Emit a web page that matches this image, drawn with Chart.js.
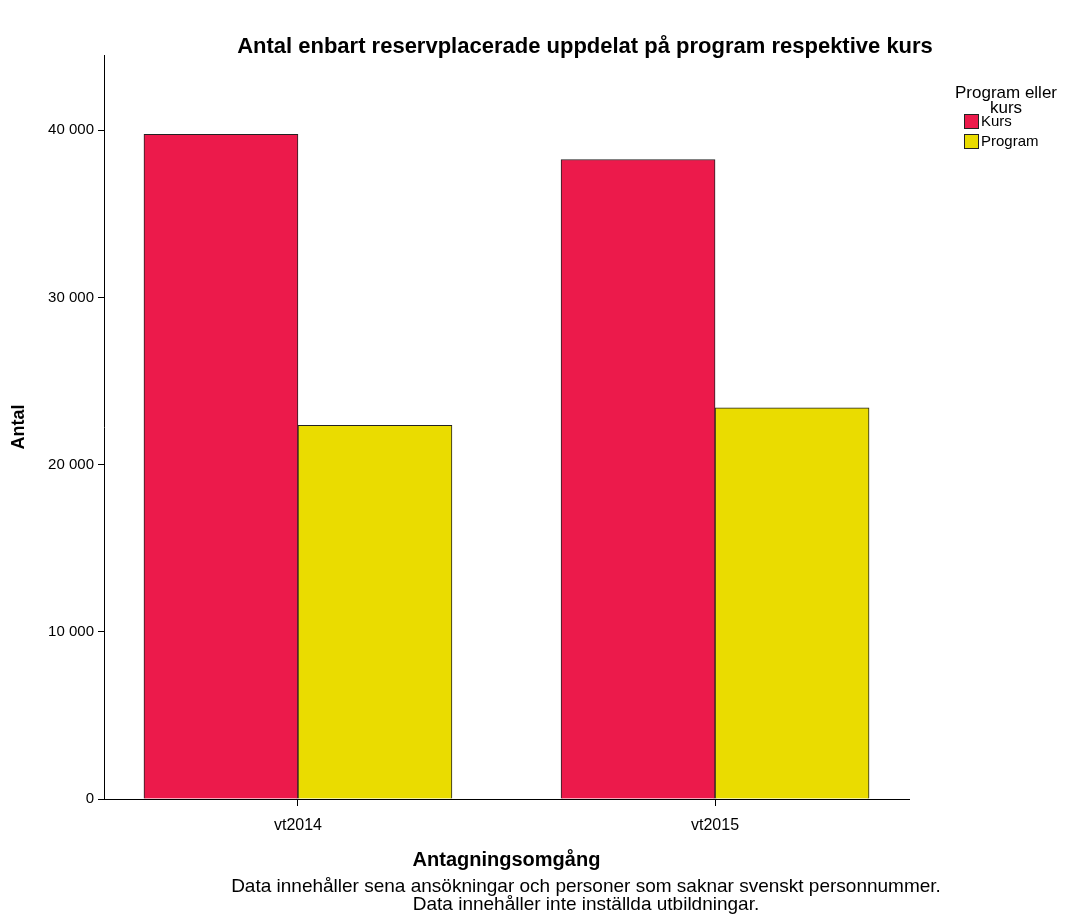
<!DOCTYPE html>
<html>
<head>
<meta charset="utf-8">
<script src="https://cdn.jsdelivr.net/npm/chart.js@4"></script>
<style>
  html, body { margin: 0; padding: 0; background: #fff; }
  #wrap { width: 1066px; height: 924px; position: relative; }
</style>
</head>
<body>
<div id="wrap"><canvas id="chart"></canvas></div>
<script>
// values
const categories = ['vt2014', 'vt2015'];
const kurs = [39750, 38250];
const program = [22350, 23400];
const seriesNames = ['Kurs', 'Program'];
const seriesColors = ['#EC1A4B', '#EADC00'];
const yTicks = [0, 10000, 20000, 30000, 40000];

const titleText = 'Antal enbart reservplacerade uppdelat på program respektive kurs';
const footnotes = [
  'Data innehåller sena ansökningar och personer som saknar svenskt personnummer.',
  'Data innehåller inte inställda utbildningar.'
];

const FONT = '"Liberation Sans", Arial, sans-serif';

// categories sit at x = 1, 2 on a linear axis so the gap at the ends can match
const toPoints = vals => vals.map((v, i) => ({ x: i + 1, y: v }));

// title, legend box on the right and the footnotes
const extras = {
  id: 'extras',
  afterDraw(chart) {
    const ctx = chart.ctx;
    ctx.save();
    ctx.fillStyle = '#000';
    ctx.textBaseline = 'middle';
    ctx.textAlign = 'center';
    ctx.font = 'bold 22px ' + FONT;
    ctx.fillText(titleText, 585, 47);

    ctx.font = '19px ' + FONT;
    ctx.fillText(footnotes[0], 586, 887);
    ctx.fillText(footnotes[1], 586, 905);

    // legend
    ctx.font = '17px ' + FONT;
    ctx.fillText('Program eller', 1006, 93);
    ctx.fillText('kurs', 1006, 108);
    ctx.textAlign = 'left';
    ctx.font = '15px ' + FONT;
    seriesNames.forEach((name, i) => {
      const y = 121 + i * 20;
      ctx.fillStyle = seriesColors[i];
      ctx.fillRect(964, y - 7, 15, 15);
      ctx.strokeStyle = '#222';
      ctx.lineWidth = 1;
      ctx.strokeRect(964.5, y - 6.5, 14, 14);
      ctx.fillStyle = '#000';
      ctx.fillText(name, 981, y + 1);
    });
    ctx.restore();
  }
};

new Chart(document.getElementById('chart'), {
  type: 'bar',
  data: {
    datasets: [
      { label: seriesNames[0], data: toPoints(kurs), backgroundColor: seriesColors[0], borderColor: '#222', borderWidth: 1 },
      { label: seriesNames[1], data: toPoints(program), backgroundColor: seriesColors[1], borderColor: '#222', borderWidth: 1 }
    ]
  },
  options: {
    responsive: true,
    maintainAspectRatio: false,
    animation: false,
    layout: { padding: { top: 55, right: 157, bottom: 50, left: 0 } },
    datasets: { bar: { barThickness: 154 } },
    plugins: {
      legend: { display: false },
      tooltip: { enabled: false }
    },
    scales: {
      x: {
        type: 'linear',
        offset: false,
        min: 0.535,
        max: 2.465,
        afterFit(scale) { scale.height = 75; },
        afterBuildTicks(scale) { scale.ticks = categories.map((c, i) => ({ value: i + 1 })); },
        grid: { drawOnChartArea: false, offset: false, color: '#000', tickLength: 7 },
        border: { color: '#000' },
        ticks: {
          color: '#000',
          font: { family: FONT, size: 16 },
          padding: 10,
          callback: v => categories[v - 1]
        },
        title: { display: true, text: 'Antagningsomgång', color: '#000', font: { family: FONT, size: 20, weight: 'bold' }, padding: { top: 0, bottom: 2 } }
      },
      y: {
        min: 0,
        max: 44500,
        afterFit(scale) { scale.width = 104; },
        afterBuildTicks(scale) { scale.ticks = yTicks.map(v => ({ value: v })); },
        grid: { drawOnChartArea: false, color: '#000', tickLength: 6 },
        border: { color: '#000' },
        ticks: {
          color: '#000',
          font: { family: FONT, size: 15 },
          padding: 4,
          callback: v => String(v).replace(/\B(?=(\d{3})+(?!\d))/g, ' ')
        },
        title: { display: true, text: 'Antal', color: '#000', font: { family: FONT, size: 18, weight: 'bold' }, padding: { top: 8, bottom: 0 } }
      }
    }
  },
  plugins: [extras]
});
</script>
</body>
</html>
